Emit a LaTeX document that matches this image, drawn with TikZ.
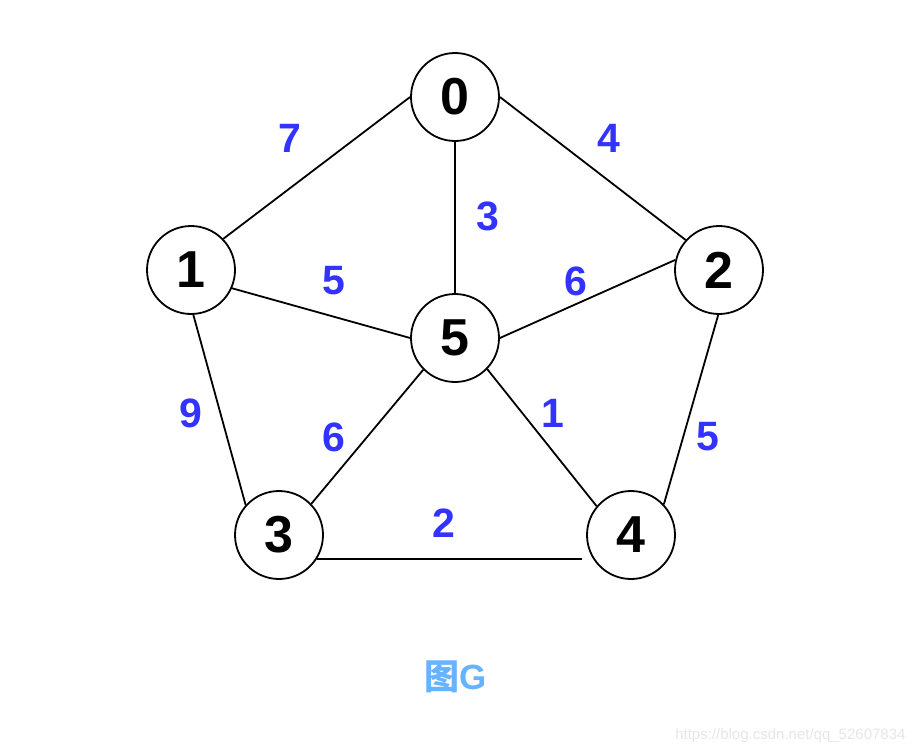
\documentclass[tikz,border=0pt]{standalone}
\usepackage{fontspec}
\setmainfont{Liberation Sans}
\newfontfamily\cjk{Noto Sans CJK SC}
\usepackage{xcolor}
\usetikzlibrary{calc}
\definecolor{wblue}{HTML}{3333FF}
\definecolor{capblue}{HTML}{66B3FF}
\definecolor{markgray}{HTML}{E6E6E6}

\begin{document}
\begin{tikzpicture}[x=1pt,y=-1pt,
    vertex/.style={circle,draw,line width=1.8pt,minimum size=88pt,inner sep=0pt,
      font=\fontsize{52}{60}\selectfont\bfseries},
    weight/.style={text=wblue,font=\fontsize{41}{48}\selectfont\bfseries},
    edge/.style={line width=1.8pt}]
  \useasboundingbox (0,0) rectangle (918,752);
  %% ---- vertices ----
  \node[vertex] (v0) at (455,97) {0};
  \node[vertex] (v1) at (191,270) {1};
  \node[vertex] (v2) at (719,270) {2};
  \node[vertex] (v5) at (455,338) {5};
  \node[vertex] (v3) at (279,535) {3};
  \node[vertex] (v4) at (631,535) {4};
  %% ---- edges ----
  \draw[edge] (v0.180) -- (v1.44);
  \draw[edge] (v0.0) -- (v2.138);
  \draw[edge] (v0.south) -- (v5.north);
  \draw[edge] (v1.-24) -- (v5.180);
  \draw[edge] (v5.0) -- (v2.167);
  \draw[edge] (v1.-87) -- (v3.138);
  \draw[edge] (v5.-135) -- (v3.44);
  \draw[edge] (v5.-44) -- (v4.140);
  \draw[edge] (v2.-91) -- (v4.43);
  \draw[edge,shorten >=4pt] (v3.-32) -- (v3.-32 -| v4.west);
  %% ---- weights ----
  \node[weight] (w01) at (290,138) {7};
  \node[weight] (w02) at (609,138) {4};
  \node[weight] (w05) at (488,216) {3};
  \node[weight] (w15) at (334,281) {5};
  \node[weight] (w25) at (576,281) {6};
  \node[weight] (w13) at (191,413) {9};
  \node[weight] (w35) at (334,437) {6};
  \node[weight] (w45) at (553,413) {1};
  \node[weight] (w24) at (708,437) {5};
  \node[weight] (w34) at (444,523) {2};
  %% ---- caption and mark ----
  \node[text=capblue,font=\fontsize{35}{42}\selectfont\bfseries] (cap) at (456,677) {{\cjk 图}G};
  \node[anchor=base east,text=markgray,font=\fontsize{15}{18}\selectfont] (mark) at (909,739)
    {https://blog.csdn.net/qq\_52607834};
\end{tikzpicture}
\end{document}
